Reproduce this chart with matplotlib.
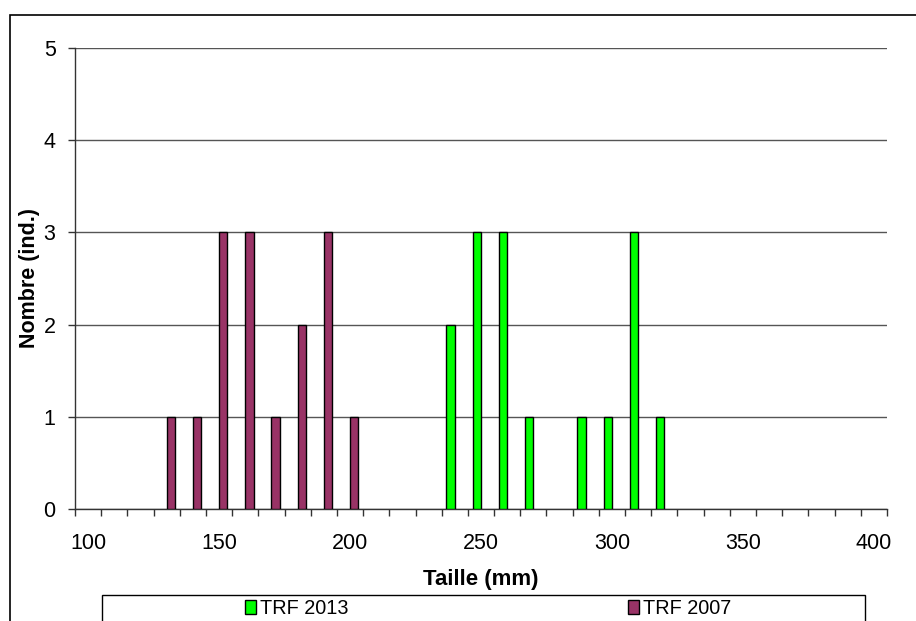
import numpy as np
import matplotlib.pyplot as plt
from matplotlib.patches import Rectangle, Patch

plt.rcParams['font.family'] = ['Liberation Sans', 'DejaVu Sans']

# categories: size classes from 100 to 400 mm, step 10
tailles = list(range(100, 401, 10))
trf_2013 = {240: 2, 250: 3, 260: 3, 270: 1, 290: 1, 300: 1, 310: 3, 320: 1}
trf_2007 = {130: 1, 140: 1, 150: 3, 160: 3, 170: 1, 180: 2, 190: 3, 200: 1}
series_names = ["TRF 2013", "TRF 2007"]
series_colors = ["#00FF00", "#993366"]

W, H = 916, 621
fig = plt.figure(figsize=(W / 100, H / 100), dpi=100)
ax = fig.add_axes([75 / W, 1 - 509 / H, (887 - 75) / W, (509 - 48) / H])

bw = 0.32
for data, col, off in [(trf_2013, series_colors[0], -bw / 2), (trf_2007, series_colors[1], bw / 2)]:
    pos = [tailles.index(t) + off for t in data]
    ax.bar(pos, list(data.values()), width=bw, color=col, edgecolor='black', linewidth=1, zorder=3)

x = np.arange(len(tailles))
ax.set_xlim(-0.5, len(tailles) - 0.5)
ax.set_ylim(0, 5)
ax.set_yticks(range(0, 6))
ax.yaxis.grid(True, color='#555555', linewidth=1)
ax.set_axisbelow(True)

ax.set_xticks(x[::5])
ax.set_xticklabels([str(t) for t in tailles[::5]])
ax.set_xticks(np.arange(-0.5, len(tailles), 1), minor=True)
ax.tick_params(axis='x', which='major', length=0, pad=17, labelsize=15.5)
ax.tick_params(axis='x', which='minor', length=5, width=1, color='#333333', direction='out')
ax.tick_params(axis='y', length=5, width=1, color='#333333', pad=9, labelsize=15.5)

for s in ['top', 'right']:
    ax.spines[s].set_visible(False)
for s in ['left', 'bottom']:
    ax.spines[s].set_color('#333333')
    ax.spines[s].set_linewidth(1)

ax.set_xlabel("Taille (mm)", fontsize=16, fontweight='bold', labelpad=11)
ax.set_ylabel("Nombre (ind.)", fontsize=15.5, fontweight='bold')
ax.yaxis.set_label_coords(-0.043, 0.5)

# outer chart border and legend box (both run past the image edges)
fig.patches.append(Rectangle((10 / W, -0.1), 1.0, 1 - 15 / H + 0.1, transform=fig.transFigure,
                             fill=False, edgecolor='black', linewidth=1.2))
fig.patches.append(Rectangle((102 / W, -0.1), (865 - 102) / W, 1 - 595 / H + 0.1, transform=fig.transFigure,
                             fill=False, edgecolor='black', linewidth=1))

for name, col, xpos in zip(series_names, series_colors, [245, 628]):
    h = Patch(facecolor=col, edgecolor='black', linewidth=1)
    fig.legend(handles=[h], labels=[name], loc='center left', bbox_to_anchor=(xpos / W, 1 - 608 / H),
               frameon=False, fontsize=14.3, handlelength=0.55, handleheight=0.7,
               handletextpad=0.2, borderpad=0, borderaxespad=0)

fig.savefig("out.png", dpi=100, facecolor='white')
